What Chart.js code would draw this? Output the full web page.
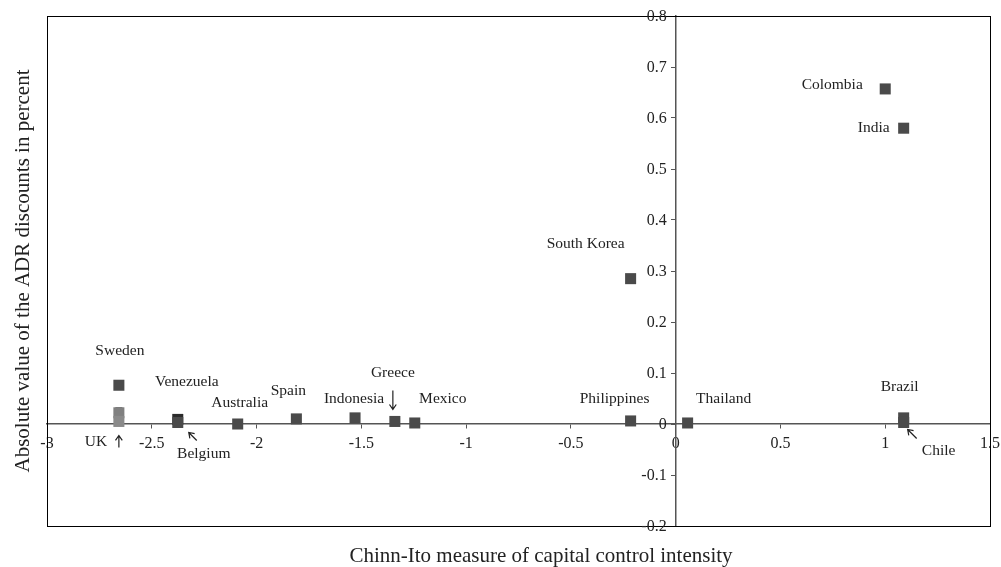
<!DOCTYPE html>
<html>
<head>
<meta charset="utf-8">
<script src="https://cdn.jsdelivr.net/npm/chart.js@4/dist/chart.umd.min.js"></script>
<style>
  html, body { margin: 0; padding: 0; background: #fff; }
  #wrap { width: 1001px; height: 567px; position: relative; }
</style>
</head>
<body>
<div id="wrap"><canvas id="c" width="1001" height="567"></canvas></div>
<script>
// ---- data ----
const countries = ["Sweden", "", "UK", "Venezuela", "Belgium", "Australia", "Spain", "Indonesia", "Greece", "Mexico", "Philippines", "Thailand", "South Korea", "Colombia", "India", "Brazil", "Chile"];
const chinnIto = [-2.657, -2.657, -2.657, -2.376, -2.376, -2.09, -1.81, -1.53, -1.34, -1.245, -0.215, 0.057, -0.215, 1.0, 1.088, 1.088, 1.088];
const adrDiscount = [0.076, 0.022, 0.005, 0.009, 0.003, 0.0, 0.01, 0.012, 0.005, 0.002, 0.006, 0.002, 0.285, 0.657, 0.58, 0.012, 0.003];
const xTickLabels = ["-3", "-2.5", "-2", "-1.5", "-1", "-0.5", "0", "0.5", "1", "1.5"];
const yTickLabels = ["-0.2", "-0.1", "0", "0.1", "0.2", "0.3", "0.4", "0.5", "0.6", "0.7", "0.8"];
const xTitle = "Chinn-Ito measure of capital control intensity";
const yTitle = "Absolute value of the ADR discounts in percent";

// ---- styling / layout (label offsets in px relative to the point) ----
const pointColors = ["#4a4a4a", "#808080", "#8a8a8a", "#2b2b2b", "#4a4a4a", "#4a4a4a", "#4a4a4a", "#4a4a4a", "#4a4a4a", "#4a4a4a", "#4a4a4a", "#4a4a4a", "#4a4a4a", "#4a4a4a", "#4a4a4a", "#4a4a4a", "#4a4a4a"];
const labelOffsets = {
  "Sweden": [1, -34], "UK": [-23, 20], "Venezuela": [9, -37], "Belgium": [26, 31],
  "Australia": [2, -21], "Spain": [-8, -28], "Indonesia": [-1, -19], "Greece": [-2, -49],
  "Mexico": [28, -24], "Philippines": [-16, -22], "Thailand": [36, -24], "South Korea": [-45, -35],
  "Colombia": [-53, -4], "India": [-30, 0], "Brazil": [-4, -31], "Chile": [35, 28]
};
const arrows = {
  "UK": [[0, 26], [0, 14]],
  "Belgium": [[19, 18], [11, 10]],
  "Greece": [[-2, -31], [-2, -12]],
  "Chile": [[13, 16], [4, 7]]
};
const FONT = "'Liberation Serif', 'DejaVu Serif', serif";

const points = chinnIto.map((x, i) => ({ x: x, y: adrDiscount[i] }));
// small darker square on top of the stacked UK group
const topMarks = [{ x: chinnIto[1], y: 0.026 }];

const decorPlugin = {
  id: 'decor',
  beforeDraw(chart) {
    const ctx = chart.ctx;
    ctx.save();
    ctx.fillStyle = '#fff';
    ctx.fillRect(0, 0, chart.width, chart.height);
    ctx.restore();
  },
  afterDraw(chart) {
    const ctx = chart.ctx;
    const a = chart.chartArea;
    const xs = chart.scales.x, ys = chart.scales.y;
    ctx.save();
    // frame
    ctx.strokeStyle = '#000';
    ctx.lineWidth = 1;
    ctx.strokeRect(Math.round(a.left) + 0.5, Math.round(a.top) + 0.5, Math.round(a.right - a.left), Math.round(a.bottom - a.top));
    // y tick labels (beside the centered axis)
    const x0 = xs.getPixelForValue(0);
    ctx.font = "16px " + FONT;
    ctx.fillStyle = '#222';
    ctx.textAlign = 'right';
    ctx.textBaseline = 'middle';
    ys.ticks.forEach((t) => {
      const lbl = yTickLabels.find(s => Math.abs(parseFloat(s) - t.value) < 1e-9);
      if (lbl !== undefined) ctx.fillText(lbl, x0 - 9, ys.getPixelForValue(t.value) + 1);
    });
    // country labels
    ctx.font = "15.5px " + FONT;
    ctx.textAlign = 'center';
    ctx.textBaseline = 'middle';
    countries.forEach((name, i) => {
      if (!name) return;
      const px = xs.getPixelForValue(chinnIto[i]);
      const py = ys.getPixelForValue(adrDiscount[i]);
      const off = labelOffsets[name] || [0, -20];
      ctx.fillText(name, px + off[0], py + off[1]);
      const arr = arrows[name];
      if (arr) {
        const tx = px + arr[0][0], ty = py + arr[0][1];
        const hx = px + arr[1][0], hy = py + arr[1][1];
        ctx.strokeStyle = '#222';
        ctx.lineWidth = 1.2;
        ctx.beginPath();
        ctx.moveTo(tx, ty);
        ctx.lineTo(hx, hy);
        const ang = Math.atan2(hy - ty, hx - tx);
        const L = 6, w = 0.6;
        ctx.moveTo(hx - L * Math.cos(ang - w), hy - L * Math.sin(ang - w));
        ctx.lineTo(hx, hy);
        ctx.lineTo(hx - L * Math.cos(ang + w), hy - L * Math.sin(ang + w));
        ctx.stroke();
      }
    });
    // axis titles
    ctx.fillStyle = '#222';
    ctx.font = "21px " + FONT;
    ctx.textAlign = 'center';
    ctx.textBaseline = 'middle';
    ctx.fillText(xTitle, 541, 556);
    ctx.translate(23, (a.top + a.bottom) / 2);
    ctx.rotate(-Math.PI / 2);
    ctx.fillText(yTitle, 0, 0);
    ctx.restore();
  }
};

function noEdgePadding(scale) {
  scale.paddingLeft = 0; scale.paddingRight = 0;
  scale.paddingTop = 0; scale.paddingBottom = 0;
}

new Chart(document.getElementById('c'), {
  type: 'scatter',
  data: {
    datasets: [{
      data: points,
      pointStyle: 'rect',
      pointRadius: 7.8,
      pointHoverRadius: 7.8,
      backgroundColor: pointColors,
      borderColor: pointColors,
      borderWidth: 0
    }, {
      data: topMarks,
      pointStyle: 'rect',
      pointRadius: 5,
      backgroundColor: '#4a4a4a',
      borderWidth: 0
    }]
  },
  options: {
    responsive: false,
    animation: false,
    events: [],
    layout: { padding: { left: 47, right: 11, top: 16, bottom: 41 } },
    plugins: { legend: { display: false }, tooltip: { enabled: false } },
    scales: {
      x: {
        type: 'linear',
        min: -3, max: 1.5,
        position: { y: 0 },
        afterBuildTicks(scale) { scale.ticks = xTickLabels.map(v => ({ value: parseFloat(v) })); },
        afterFit: noEdgePadding,
        ticks: {
          callback(v) { const s = xTickLabels.find(t => Math.abs(parseFloat(t) - v) < 1e-9); return s === undefined ? '' : s; },
          font: { family: FONT, size: 16 }, color: '#222', padding: 6, maxRotation: 0, autoSkip: false
        },
        grid: { drawOnChartArea: false, drawTicks: true, tickLength: 4, color: '#555', lineWidth: 1 },
        border: { display: true, color: '#555', width: 1.5 }
      },
      y: {
        type: 'linear',
        min: -0.2, max: 0.8,
        position: { x: 0 },
        afterBuildTicks(scale) { scale.ticks = yTickLabels.map(v => ({ value: parseFloat(v) })); },
        afterFit: noEdgePadding,
        ticks: { display: false },
        grid: { drawOnChartArea: false, drawTicks: true, tickLength: 4, color: '#555', lineWidth: 1 },
        border: { display: true, color: '#555', width: 1.5 }
      }
    }
  },
  plugins: [decorPlugin]
});
</script>
</body>
</html>
